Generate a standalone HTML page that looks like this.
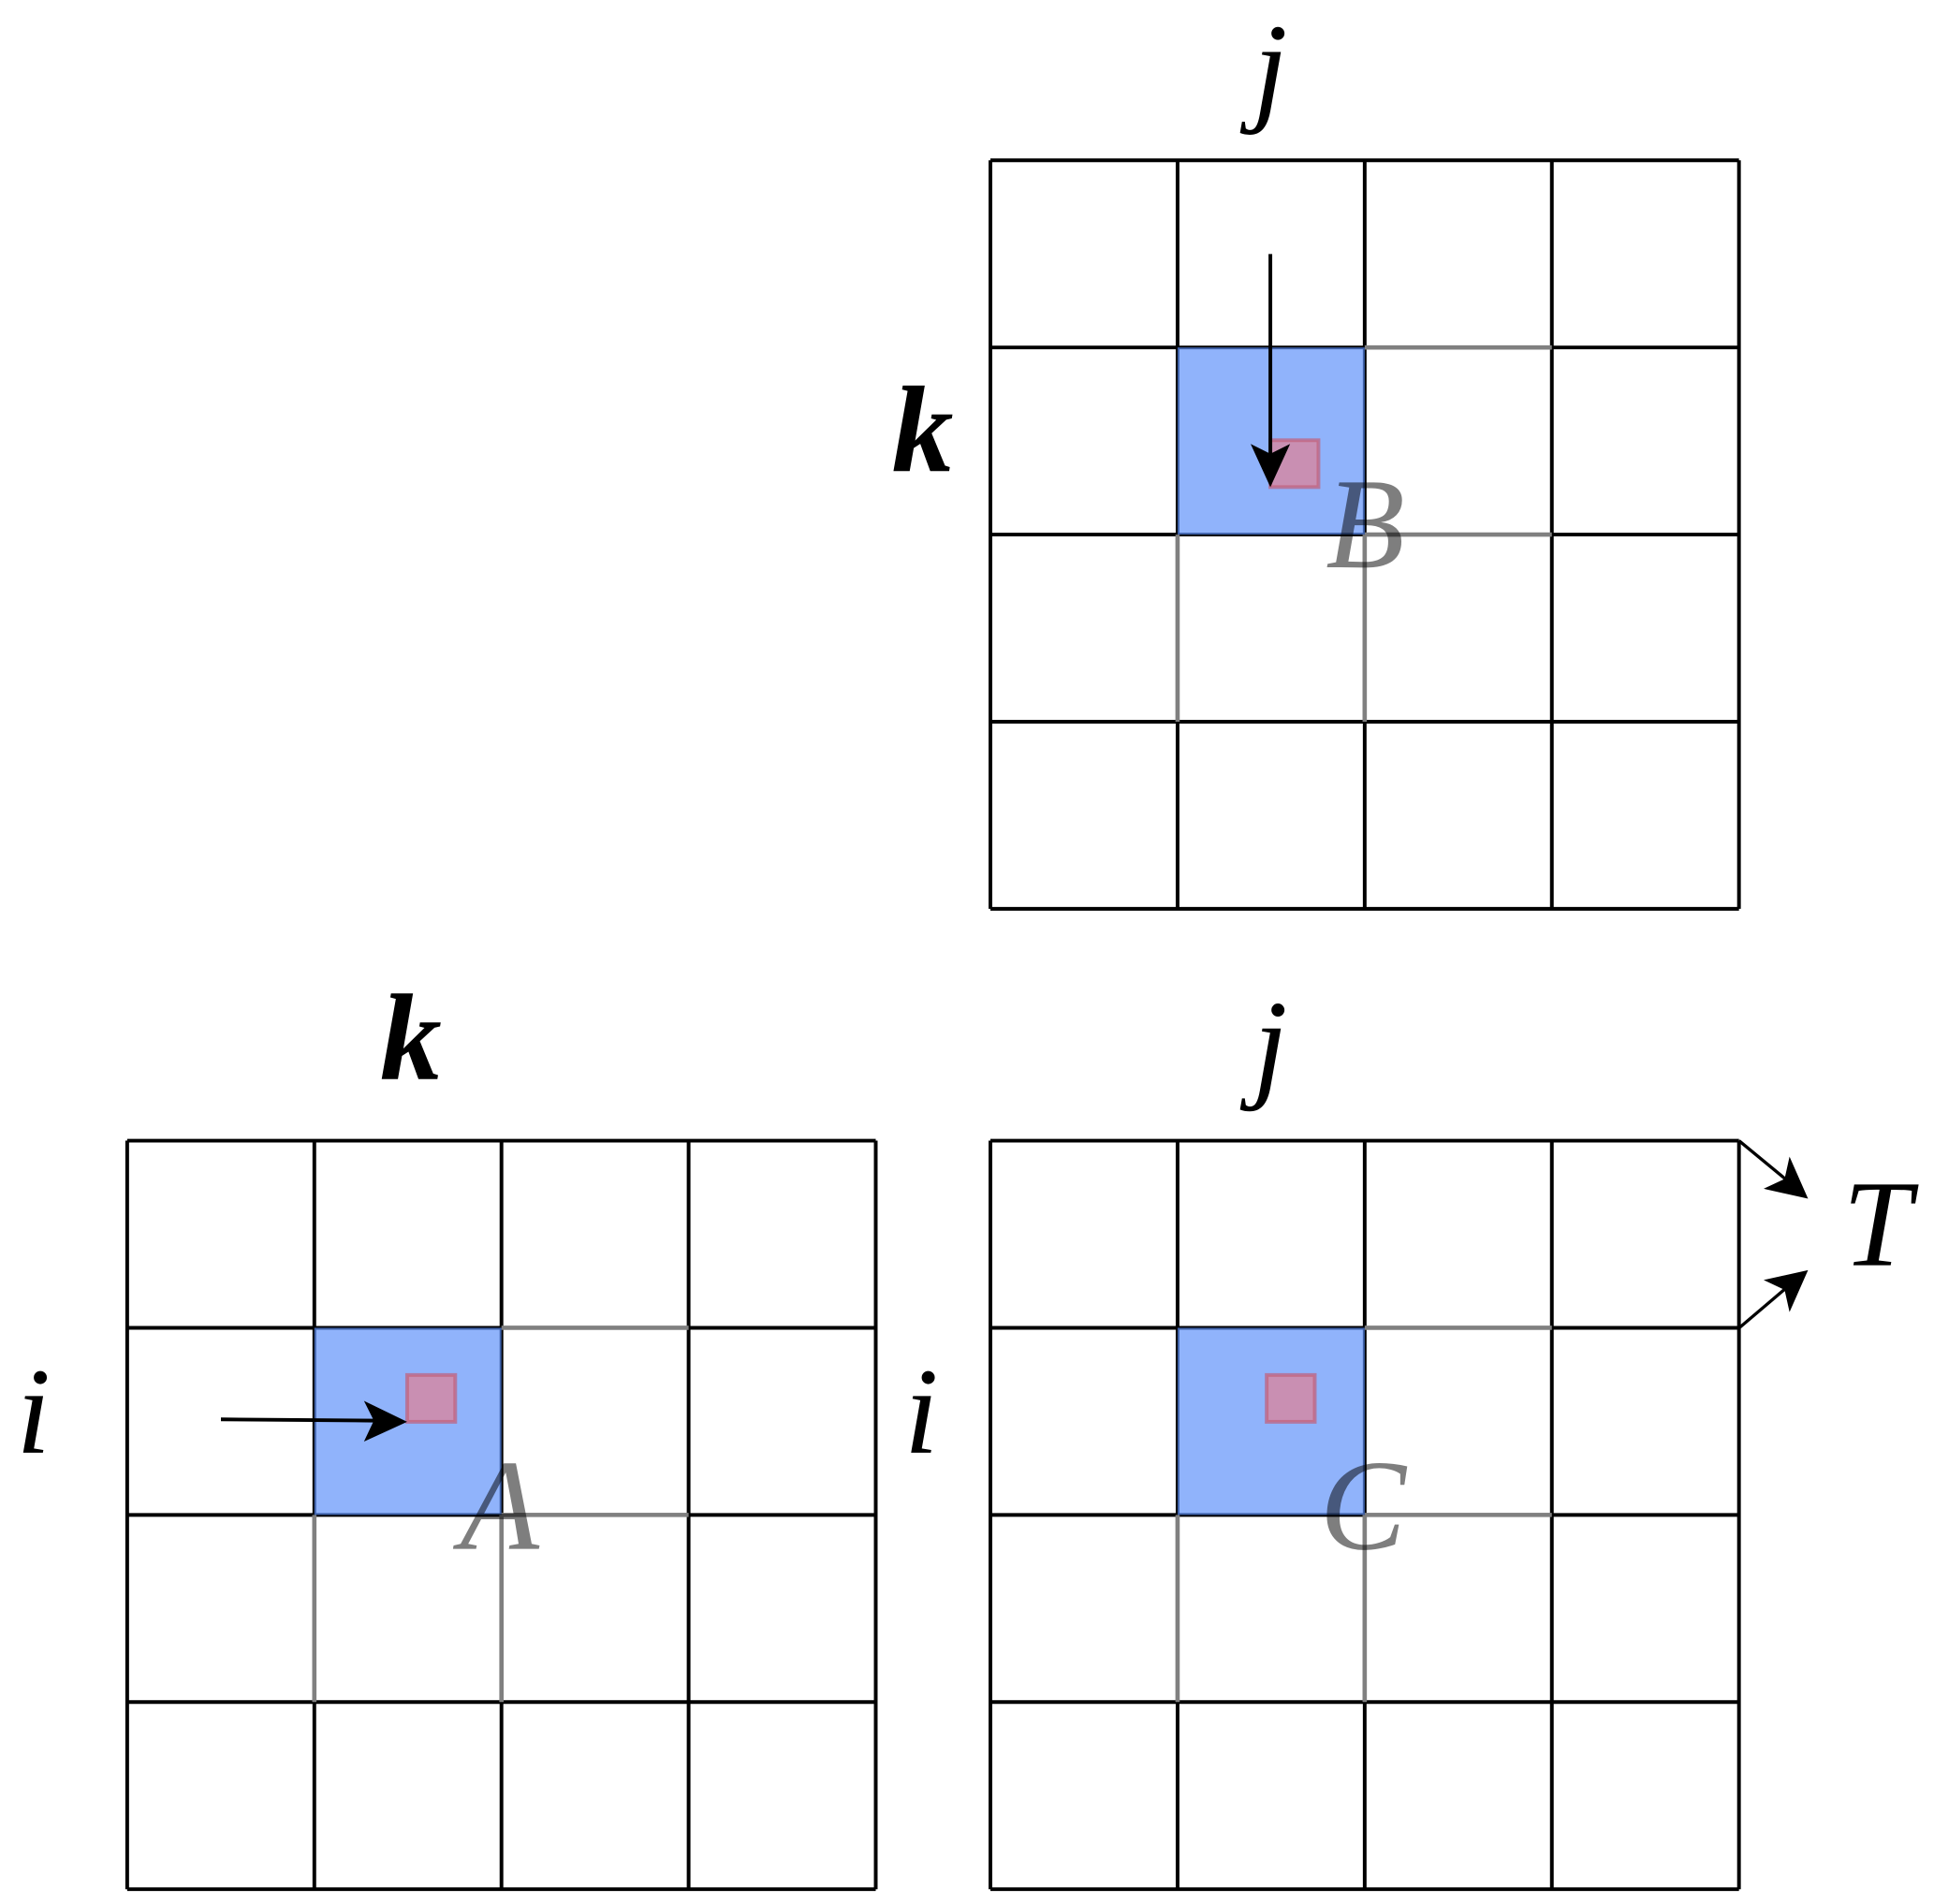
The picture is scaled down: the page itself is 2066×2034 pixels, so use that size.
<!DOCTYPE html>
<html><head><meta charset="utf-8"><style>html,body{margin:0;padding:0;background:#fff}svg{display:block}</style></head>
<body>
<svg width="2066" height="2034" viewBox="0 0 1568 1544" xmlns="http://www.w3.org/2000/svg" font-family="'Liberation Serif', serif" font-style="italic">
<defs>
<marker id="ah" viewBox="0 0 10 10" refX="9" refY="5" markerWidth="6" markerHeight="6" orient="auto-start-reverse" markerUnits="userSpaceOnUse" style="overflow:visible">
</marker>
</defs>
<g id="grids"></g>
<g><text x="1030" y="88" font-size="100" text-anchor="middle">j</text></g>
<g><text x="748" y="382" font-size="100" text-anchor="middle" font-weight="bold">k</text></g>
<g><text x="333" y="875" font-size="100" text-anchor="middle" font-weight="bold">k</text></g>
<g><text x="1030" y="880" font-size="100" text-anchor="middle">j</text></g>
<g><text x="27" y="1178" font-size="100" text-anchor="middle">i</text></g>
<g><text x="747" y="1178" font-size="100" text-anchor="middle">i</text></g>
<g><text x="1107" y="460" font-size="105" text-anchor="middle" fill="#000" opacity="0.5">B</text></g>
<g><text x="405" y="1256" font-size="105" text-anchor="middle" fill="#000" opacity="0.5">A</text></g>
<g><text x="1105" y="1256" font-size="105" text-anchor="middle" fill="#000" opacity="0.5">C</text></g>
<g><text x="1522" y="1026" font-size="100" text-anchor="middle">T</text></g>
<g>
<line x1="1030" y1="206" x2="1030" y2="370" stroke="#000" stroke-width="3"/>
<polygon points="1030,395 1014,360 1030,368 1046,360" fill="#000"/>
</g>
<g>
<line x1="179" y1="1151" x2="305" y2="1152" stroke="#000" stroke-width="3"/>
<polygon points="330,1153 295,1169 303,1152 295,1136" fill="#000"/>
</g>
<g>
<line x1="1410" y1="925" x2="1450" y2="958" stroke="#000" stroke-width="2.5"/>
<polygon points="1466,972 1430,964 1447,956 1451,938" fill="#000"/>
</g>
<g>
<line x1="1410" y1="1077" x2="1450" y2="1043" stroke="#000" stroke-width="2.5"/>
<polygon points="1466,1030 1451,1064 1447,1046 1430,1038" fill="#000"/>
</g>
<script>
const gridNames = ['grid-b','grid-a','grid-c'];
const gridX = [803, 103, 803];
const gridY = [130, 925, 925];
const highlightCol = [1, 1, 1];
const highlightRow = [1, 1, 1];
const NS='http://www.w3.org/2000/svg';
const root=document.getElementById('grids');
const size=607, n=4, c=size/n;
const redPos=[[1030,357],[330,1115],[1027,1115]];
for(let g=0; g<3; g++){
  const grp=document.createElementNS(NS,'g');
  
  
  const x0=gridX[g], y0=gridY[g];
  for(let i=0;i<=n;i++){
    const l1=document.createElementNS(NS,'line');
    l1.setAttribute('x1',x0);l1.setAttribute('x2',x0+size);l1.setAttribute('y1',y0+i*c);l1.setAttribute('y2',y0+i*c);
    l1.setAttribute('stroke','#000');l1.setAttribute('stroke-width','3');
    
    
    grp.appendChild(l1);
    const l2=document.createElementNS(NS,'line');
    l2.setAttribute('y1',y0);l2.setAttribute('y2',y0+size);l2.setAttribute('x1',x0+i*c);l2.setAttribute('x2',x0+i*c);
    l2.setAttribute('stroke','#000');l2.setAttribute('stroke-width','3');
    
    
    grp.appendChild(l2);
  }
  // gray overlay lines adjacent to highlight
  const hx=x0+highlightCol[g]*c, hy=y0+highlightRow[g]*c;
  const gl=document.createElementNS(NS,'path');
  gl.setAttribute('d',`M${hx+c},${hy} H${hx+2*c} M${hx+c},${hy+c} H${hx+2*c} M${hx+c},${hy+c} V${hy+2*c} M${hx},${hy+c} V${hy+2*c}`);
  gl.setAttribute('stroke','#808080');gl.setAttribute('stroke-width','3.5');
  
  
  grp.appendChild(gl);
  const r=document.createElementNS(NS,'rect');
  r.setAttribute('x',hx);r.setAttribute('y',hy);r.setAttribute('width',c);r.setAttribute('height',c);
  r.setAttribute('fill','#5b8ff9');r.setAttribute('fill-opacity','0.68');
  
  
  grp.appendChild(r);
  const s=document.createElementNS(NS,'rect');
  s.setAttribute('x',redPos[g][0]);s.setAttribute('y',redPos[g][1]);s.setAttribute('width',39);s.setAttribute('height',38);
  s.setAttribute('fill','#c98fb2');s.setAttribute('stroke','#c0607a');s.setAttribute('stroke-width','3');s.setAttribute('stroke-opacity','0.7');
  
  
  grp.appendChild(s);
  root.appendChild(grp);
}
</script>
</svg>
</body></html>
